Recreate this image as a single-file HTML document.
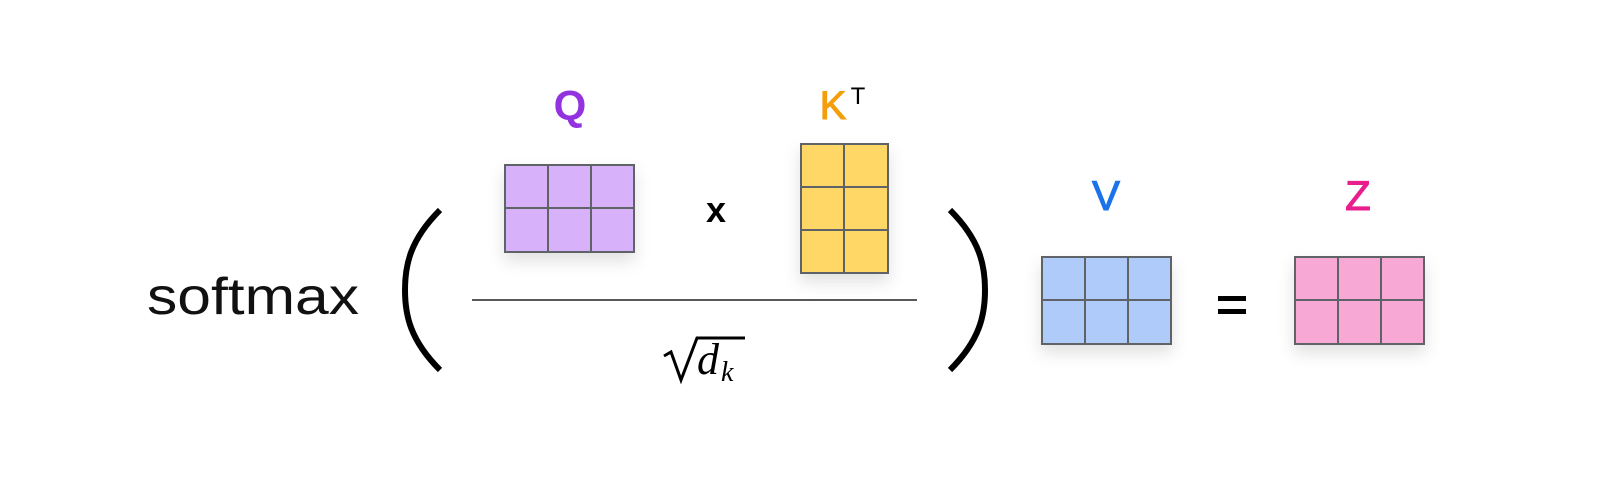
<!DOCTYPE html>
<html><head><style>html,body{margin:0;padding:0;background:#fff}</style></head><body>
<svg width="1600" height="499" viewBox="0 0 1600 499" xmlns="http://www.w3.org/2000/svg">
<defs>
<filter id="sh" x="-30%" y="-30%" width="160%" height="170%"><feDropShadow dx="0" dy="8" stdDeviation="8" flood-color="#000" flood-opacity="0.12"/></filter>
</defs>
<g font-family="Liberation Sans, sans-serif">
<text x="147" y="314" font-size="52" fill="#111" textLength="212" lengthAdjust="spacingAndGlyphs">softmax</text>
<path d="M440 210 C410 240 405 265 405 290 C405 315 410 340 440 370" fill="none" stroke="#000" stroke-width="6"/>
<path d="M950 210 C980 240 985 265 985 290 C985 315 980 340 950 370" fill="none" stroke="#000" stroke-width="6"/>
<line x1="472" y1="300" x2="917" y2="300" stroke="#222" stroke-width="1.5"/>
<text x="570" y="120" font-size="42" font-weight="bold" fill="#9333e0" text-anchor="middle">Q</text>
<text x="833" y="119" font-size="40" fill="#f59e0b" stroke="#f59e0b" stroke-width="1" text-anchor="middle">K</text>
<text x="858" y="104" font-size="24" fill="#000" text-anchor="middle">T</text>
<text x="716" y="222" font-size="36" font-weight="bold" fill="#000" text-anchor="middle">x</text>
<text x="1106" y="210" font-size="42" fill="#1a73e8" stroke="#1a73e8" stroke-width="1" text-anchor="middle">V</text>
<text x="1358" y="210" font-size="42" fill="#e91e8c" stroke="#e91e8c" stroke-width="1" text-anchor="middle">Z</text>
<rect x="1218" y="296" width="28" height="5" fill="#000"/>
<rect x="1218" y="309" width="28" height="5" fill="#000"/>
<g filter="url(#sh)">
<rect x="505" y="165" width="129" height="87" fill="#d8b1fb" stroke="#5f6368" stroke-width="2"/>
<rect x="801" y="144" width="87" height="129" fill="#fed766" stroke="#5f6368" stroke-width="2"/>
<rect x="1042" y="257" width="129" height="87" fill="#aecbfa" stroke="#5f6368" stroke-width="2"/>
<rect x="1295" y="257" width="129" height="87" fill="#f8a8d4" stroke="#5f6368" stroke-width="2"/>
</g>
<g stroke="#5f6368" stroke-width="2">
<line x1="548" y1="165" x2="548" y2="252"/><line x1="591" y1="165" x2="591" y2="252"/><line x1="505" y1="208" x2="634" y2="208"/>
<line x1="844" y1="144" x2="844" y2="273"/><line x1="801" y1="187" x2="888" y2="187"/><line x1="801" y1="230" x2="888" y2="230"/>
<line x1="1085" y1="257" x2="1085" y2="344"/><line x1="1128" y1="257" x2="1128" y2="344"/><line x1="1042" y1="300" x2="1171" y2="300"/>
<line x1="1338" y1="257" x2="1338" y2="344"/><line x1="1381" y1="257" x2="1381" y2="344"/><line x1="1295" y1="300" x2="1424" y2="300"/>
</g>
<path d="M664 356 L671 352 L681 380 L697 338 L745 338" fill="none" stroke="#000" stroke-width="3"/>
<text x="697" y="374" font-family="Liberation Serif, serif" font-style="italic" font-size="44" fill="#000">d</text>
<text x="721" y="381" font-family="Liberation Serif, serif" font-style="italic" font-size="28" fill="#000">k</text>
</g>
</svg>
</body></html>
